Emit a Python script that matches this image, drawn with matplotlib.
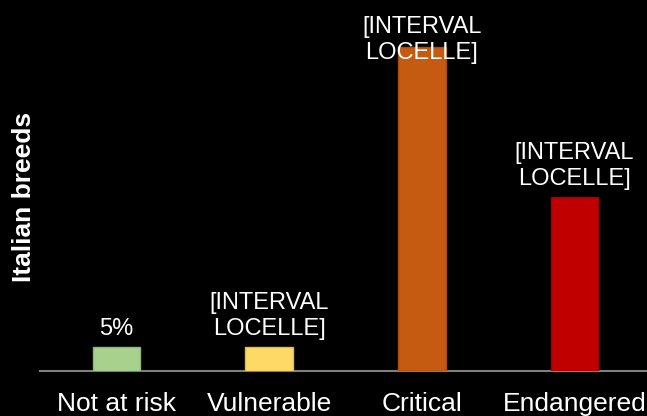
import matplotlib
matplotlib.use("Agg")
import matplotlib.pyplot as plt

categories = ["Not at risk", "Vulnerable", "Critical", "Endangered"]
values = [5, 5, 67.5, 36.25]
labels = ["5%", "[INTERVAL\nLOCELLE]", "[INTERVAL\nLOCELLE]", "[INTERVAL\nLOCELLE]"]
colors = ["#A9D18E", "#FFD966", "#C55A11", "#C00000"]
edges = ["#8FB776", "#E0BC50", "#A84B0C", "#A00000"]
ylabel = "Italian breeds"

plt.rcParams['font.family'] = ['Liberation Sans', 'DejaVu Sans']
W, H = 647, 416
fig = plt.figure(figsize=(W/100, H/100), dpi=100, facecolor="black")
ax = fig.add_axes([40/W, 45/H, 607/W, 371/H], facecolor="black")

x = list(range(len(categories)))
ax.bar(x, values, width=0.31, color=colors, edgecolor=edges, linewidth=1, zorder=3)
ax.set_xlim(-0.5, 3.5 - 4/153)
ax.set_ylim(0, 67.5 * 371/324)

for s in ["top", "right", "left"]:
    ax.spines[s].set_visible(False)
ax.spines["bottom"].set_color("#7F7F7F")
ax.spines["bottom"].set_linewidth(1.5)
ax.set_yticks([])
ax.set_xticks(x)
ax.set_xticklabels(categories, color="white", fontsize=19)
ax.tick_params(axis="x", length=0, pad=15)

fig.text(24/W, (H - 197)/H, ylabel, rotation=90, color="white", fontsize=19,
         fontweight="bold", ha="center", va="center")

# data labels, clamped inside the plot area near the top
max_bottom_px = H - 64
for xi, v, lab in zip(x, values, labels):
    disp = ax.transData.transform((xi, v))
    ybot = min(disp[1] + 7, max_bottom_px)
    xd, yd = fig.transFigure.inverted().transform((disp[0], ybot))
    fig.text(xd, yd, lab, color="white", fontsize=17, ha="center", va="bottom",
             linespacing=1.25, zorder=5)

fig.savefig("out.png", dpi=100, facecolor="black")
